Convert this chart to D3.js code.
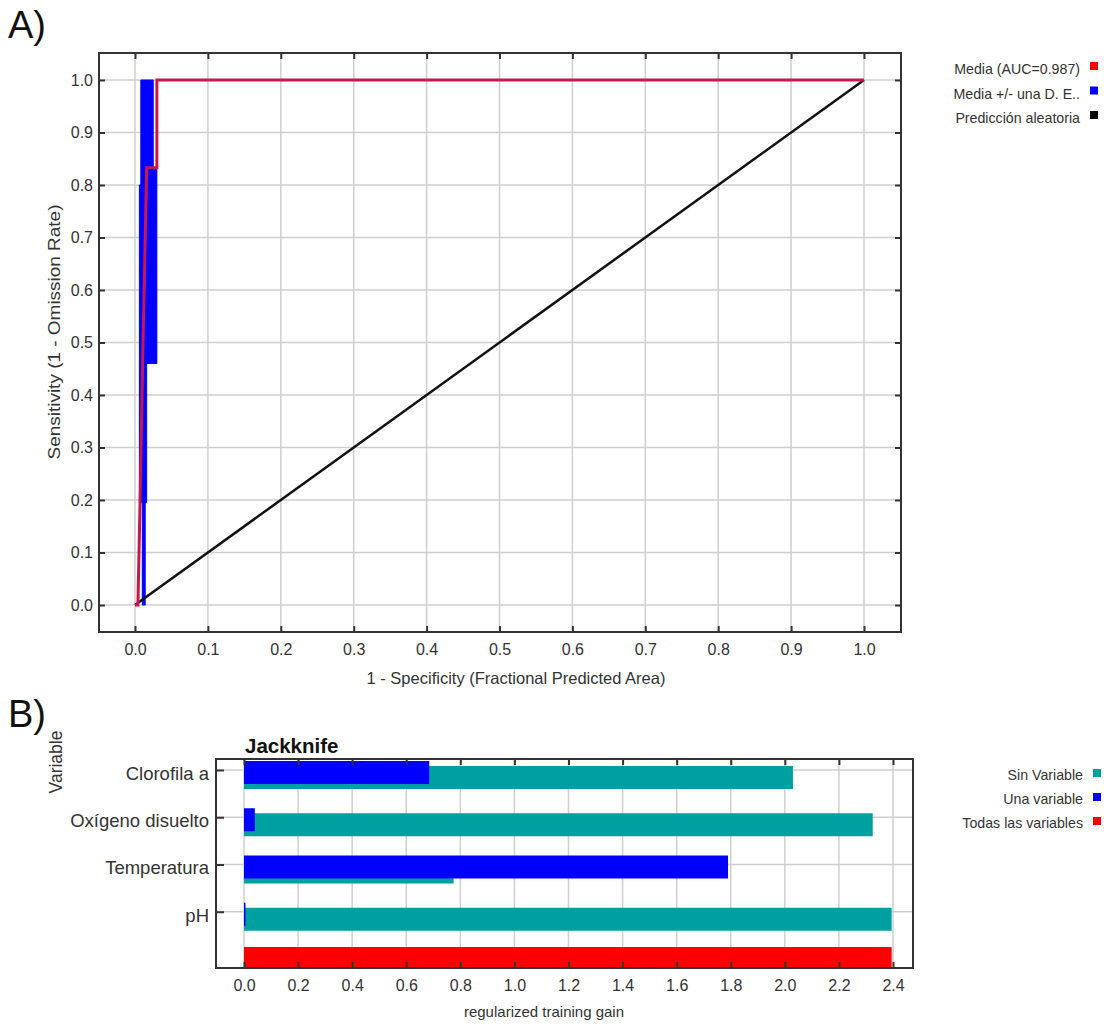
<!DOCTYPE html>
<html>
<head>
<meta charset="utf-8">
<script src="https://cdn.jsdelivr.net/npm/d3@7/dist/d3.min.js"></script>
<style>
  body { margin: 0; background: #fff; }
  svg { display: block; font-family: "Liberation Sans", Arial, sans-serif; }
</style>
</head>
<body>
<div id="chart"></div>
<script>
// ROC curve data (panel A)
const rocTicks = [0, 0.1, 0.2, 0.3, 0.4, 0.5, 0.6, 0.7, 0.8, 0.9, 1.0];
const meanCurve = [[0, 0], [0.004, 0], [0.007, 0.2], [0.011, 0.5], [0.016, 0.833], [0.030, 0.833], [0.030, 1.0], [1.0, 1.0]];
const sdUpper = [[0.010, 0], [0.010, 0.195], [0.006, 0.195], [0.006, 0.80], [0.008, 0.80], [0.008, 1.0]];
const sdLower = [[0.014, 0], [0.014, 0.195], [0.016, 0.195], [0.016, 0.46], [0.030, 0.46], [0.030, 0.83], [0.025, 0.83], [0.025, 1.0]];
const randomLine = [[0, 0], [1, 1]];
const rocLegend = [
  { label: 'Media (AUC=0.987)', color: '#ff0000' },
  { label: 'Media +/- una D. E..', color: '#0000ff' },
  { label: 'Predicción aleatoria', color: '#000000' }
];

// Jackknife data (panel B)
const variables = ['Clorofila a', 'Oxígeno disuelto', 'Temperatura', 'pH'];
const withoutVar = [2.03, 2.325, 0.775, 2.395];
const onlyVar = [0.685, 0.04, 1.79, 0.005];
const allVars = 2.395;
const gainTicks = [0, 0.2, 0.4, 0.6, 0.8, 1.0, 1.2, 1.4, 1.6, 1.8, 2.0, 2.2, 2.4];
const jackLegend = [
  { label: 'Sin Variable', color: '#00a0a0' },
  { label: 'Una variable', color: '#0000ff' },
  { label: 'Todas las variables', color: '#ff0000' }
];

const width = 1106, height = 1030;
const textColor = '#333';
const gridColor = '#cfcfcf';

const svg = d3.select('#chart').append('svg')
  .attr('width', width)
  .attr('height', height);

// ---------- Panel A ----------
const frameA = { left: 99, right: 901, top: 53, bottom: 632 };
const x = d3.scaleLinear().domain([0, 1]).range([135, 864]);
const y = d3.scaleLinear().domain([0, 1]).range([605, 80]);

svg.append('text').text('A)')
  .attr('x', 8).attr('y', 38)
  .attr('font-size', 38).attr('fill', '#111');

const gA = svg.append('g');

gA.selectAll('line.vgrid').data(rocTicks).join('line')
  .attr('x1', d => x(d)).attr('x2', d => x(d))
  .attr('y1', frameA.top).attr('y2', frameA.bottom)
  .attr('stroke', gridColor).attr('stroke-width', 1.5);
gA.selectAll('line.hgrid').data(rocTicks).join('line')
  .attr('x1', frameA.left).attr('x2', frameA.right)
  .attr('y1', d => y(d)).attr('y2', d => y(d))
  .attr('stroke', gridColor).attr('stroke-width', 1.5);

// SD band
const band = sdUpper.concat(sdLower.slice().reverse());
gA.append('path')
  .attr('d', d3.line().x(d => x(d[0])).y(d => y(d[1]))(band) + 'Z')
  .attr('fill', '#0000ff')
  .attr('stroke', '#0000ff').attr('stroke-width', 1);

gA.append('path')
  .attr('d', d3.line().x(d => x(d[0])).y(d => y(d[1]))(randomLine))
  .attr('fill', 'none').attr('stroke', '#111').attr('stroke-width', 2.5);

gA.append('path')
  .attr('d', d3.line().x(d => x(d[0])).y(d => y(d[1]))(meanCurve))
  .attr('fill', 'none').attr('stroke', '#c8164f').attr('stroke-width', 3);

gA.append('rect')
  .attr('x', frameA.left).attr('y', frameA.top)
  .attr('width', frameA.right - frameA.left).attr('height', frameA.bottom - frameA.top)
  .attr('fill', 'none').attr('stroke', '#333').attr('stroke-width', 2);

function styleAxis(g) {
  g.select('.domain').remove();
  g.selectAll('.tick line').attr('stroke', '#333').attr('stroke-width', 2);
  g.selectAll('.tick text').attr('fill', textColor).attr('font-size', 16)
    .attr('font-family', '"Liberation Sans", Arial, sans-serif');
}

gA.append('g').attr('transform', `translate(${frameA.left},0)`)
  .call(d3.axisLeft(y).tickValues(rocTicks).tickFormat(d3.format('.1f')).tickSize(-6).tickPadding(6))
  .call(styleAxis);
gA.append('g').attr('transform', `translate(${frameA.right},0)`)
  .call(d3.axisRight(y).tickValues(rocTicks).tickFormat('').tickSize(-6))
  .call(styleAxis);
gA.append('g').attr('transform', `translate(0,${frameA.bottom})`)
  .call(d3.axisBottom(x).tickValues(rocTicks).tickFormat(d3.format('.1f')).tickSize(-6).tickPadding(12))
  .call(styleAxis);
gA.append('g').attr('transform', `translate(0,${frameA.top})`)
  .call(d3.axisTop(x).tickValues(rocTicks).tickFormat('').tickSize(-6))
  .call(styleAxis);

gA.append('text').text('1 - Specificity (Fractional Predicted Area)')
  .attr('x', 516).attr('y', 684)
  .attr('text-anchor', 'middle').attr('font-size', 16.5).attr('fill', textColor);
gA.append('text').text('Sensitivity (1 - Omission Rate)')
  .attr('transform', `translate(60,332) rotate(-90) scale(1.15,1)`)
  .attr('text-anchor', 'middle').attr('font-size', 16.5).attr('fill', textColor);

const legA = gA.selectAll('g.leg').data(rocLegend).join('g')
  .attr('transform', (d, i) => `translate(1080,${74 + i * 24.5})`);
legA.append('text').text(d => d.label)
  .attr('text-anchor', 'end').attr('font-size', 14.2).attr('fill', textColor);
legA.append('rect')
  .attr('x', 10).attr('y', -12).attr('width', 8).attr('height', 8)
  .attr('fill', d => d.color);

// ---------- Panel B ----------
const frameB = { left: 216, right: 913, top: 759, bottom: 968 };
const xb = d3.scaleLinear().domain([0, 2.4]).range([244, 893]);
const yb = d3.scaleLinear().domain([0, 4]).range([770, 959]);
const idx = variables.map((d, i) => i);

svg.append('text').text('B)')
  .attr('x', 8).attr('y', 727)
  .attr('font-size', 38).attr('fill', '#111');

const gB = svg.append('g');

gB.selectAll('line.vgrid').data(gainTicks).join('line')
  .attr('x1', d => xb(d)).attr('x2', d => xb(d))
  .attr('y1', frameB.top).attr('y2', frameB.bottom)
  .attr('stroke', gridColor).attr('stroke-width', 1.5);
gB.selectAll('line.hgrid').data(idx).join('line')
  .attr('x1', frameB.left).attr('x2', frameB.right)
  .attr('y1', d => yb(d)).attr('y2', d => yb(d))
  .attr('stroke', gridColor).attr('stroke-width', 1.5);

// without variable (teal), only variable (blue)
gB.selectAll('rect.without').data(idx).join('rect')
  .attr('x', xb(0)).attr('y', d => yb(d) - 4)
  .attr('width', d => xb(withoutVar[d]) - xb(0)).attr('height', 23)
  .attr('fill', '#00a0a0');
gB.selectAll('rect.only').data(idx).join('rect')
  .attr('x', xb(0)).attr('y', d => yb(d) - 9)
  .attr('width', d => Math.max(1.5, xb(onlyVar[d]) - xb(0))).attr('height', 23)
  .attr('fill', '#0000ff');
gB.append('rect')
  .attr('x', xb(0)).attr('y', yb(4) - 12)
  .attr('width', xb(allVars) - xb(0)).attr('height', frameB.bottom - (yb(4) - 12))
  .attr('fill', '#ff0000');

gB.append('rect')
  .attr('x', frameB.left).attr('y', frameB.top)
  .attr('width', frameB.right - frameB.left).attr('height', frameB.bottom - frameB.top)
  .attr('fill', 'none').attr('stroke', '#333').attr('stroke-width', 2);

gB.append('g').attr('transform', `translate(${frameB.left},0)`)
  .call(d3.axisLeft(yb).tickValues(idx).tickFormat(d => variables[d]).tickSize(-8).tickPadding(7))
  .call(styleAxis)
  .call(g => g.selectAll('.tick text').attr('font-size', 18.5).attr('dy', '0.5em'));
gB.append('g').attr('transform', `translate(0,${frameB.bottom})`)
  .call(d3.axisBottom(xb).tickValues(gainTicks).tickFormat(d3.format('.1f')).tickSize(-6).tickPadding(12))
  .call(styleAxis);
gB.append('g').attr('transform', `translate(0,${frameB.top})`)
  .call(d3.axisTop(xb).tickValues(gainTicks).tickFormat('').tickSize(-6))
  .call(styleAxis);

gB.append('text').text('Jackknife')
  .attr('x', 245).attr('y', 753)
  .attr('font-size', 20.5).attr('font-weight', 'bold').attr('fill', '#111');
gB.append('text').text('regularized training gain')
  .attr('x', 544).attr('y', 1017)
  .attr('text-anchor', 'middle').attr('font-size', 15).attr('fill', textColor);
gB.append('text').text('Variable')
  .attr('transform', `translate(62,762) rotate(-90)`)
  .attr('text-anchor', 'middle').attr('font-size', 17.5).attr('fill', textColor);

const legB = gB.selectAll('g.leg').data(jackLegend).join('g')
  .attr('transform', (d, i) => `translate(1083,${780 + i * 24})`);
legB.append('text').text(d => d.label)
  .attr('text-anchor', 'end').attr('font-size', 14.2).attr('fill', textColor);
legB.append('rect')
  .attr('x', 10).attr('y', -11).attr('width', 8).attr('height', 8)
  .attr('fill', d => d.color);
</script>
</body>
</html>
